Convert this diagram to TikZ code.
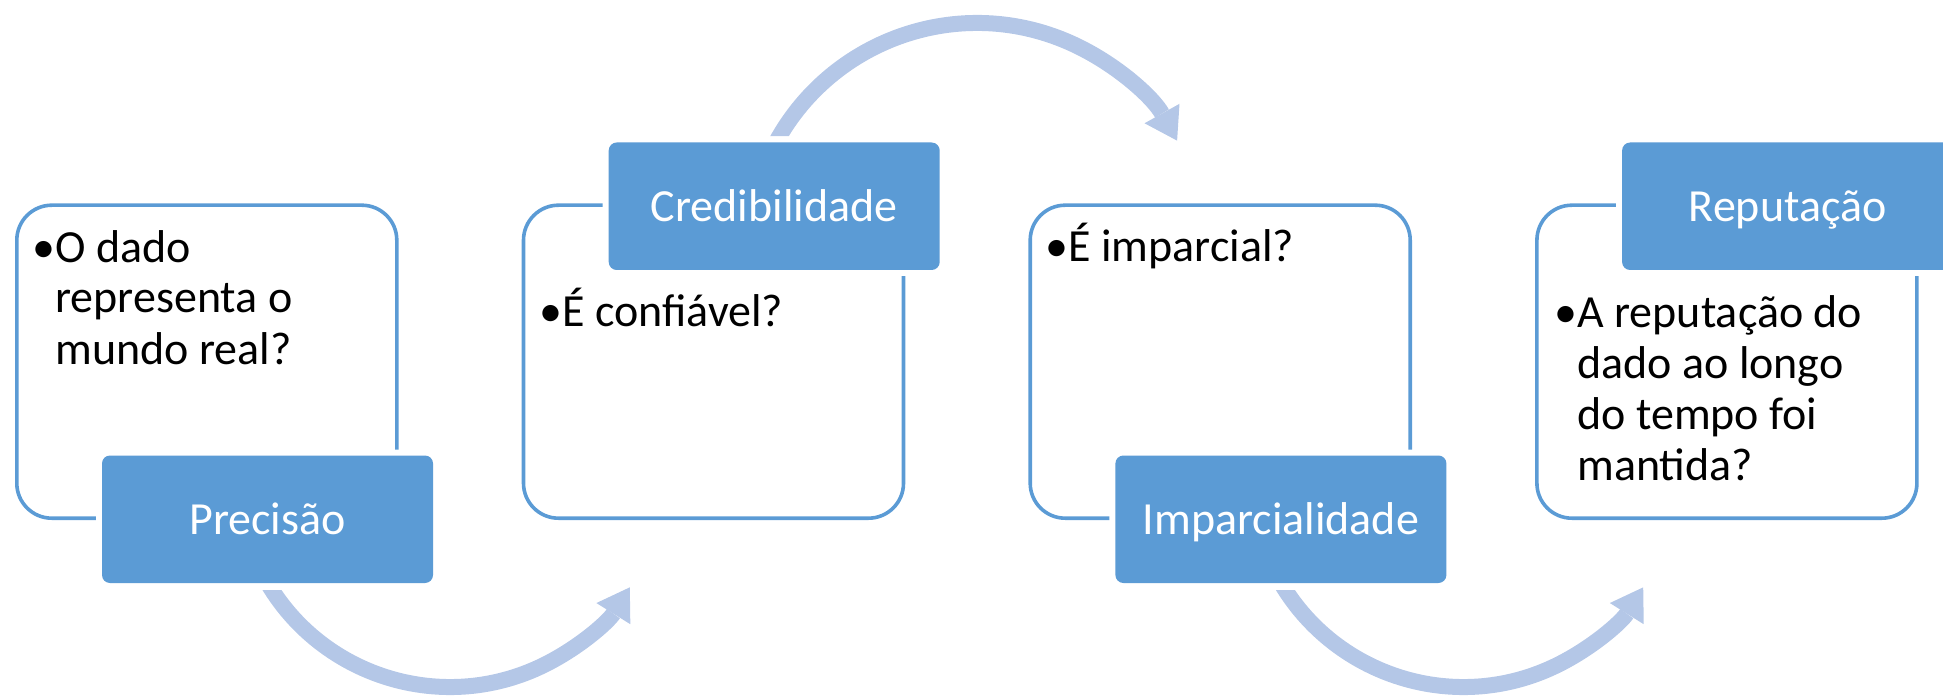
\documentclass[tikz,border=0pt]{standalone}
\usepackage{fontspec}
\setmainfont{Carlito}
\usetikzlibrary{arrows.meta}
\definecolor{accent}{RGB}{91,155,213}
\definecolor{flowtint}{RGB}{180,199,231}
\begin{document}
\begin{tikzpicture}[x=0.5pt,y=0.5pt,
  card/.style={draw=accent, line width=1.8pt, rounded corners=17.5pt,
    minimum width=190pt, minimum height=156.5pt, inner sep=0pt, anchor=south west},
  tag/.style={fill=accent, rounded corners=4pt, minimum width=165.5pt,
    minimum height=63.75pt, inner sep=0pt, text=white,
    font=\fontsize{23}{25.5}\selectfont, text height=14.8pt, text depth=0pt,
    preaction={draw=white, line width=6pt}},
  body/.style={font=\fontsize{23}{25.5}\selectfont, align=left, inner sep=0pt,
    anchor=base west},
  flow/.style={draw=flowtint, line width=8pt,
    -{Triangle[length=15.5pt, width=20pt, line width=0pt]}}
]
\path[use as bounding box, clip] (0,0) rectangle (1943,697);

% curved flow arrows (behind everything)
\coordinate (c1) at (450,222);
\coordinate (c2) at (977,445);
\coordinate (c3) at (1463.4,222);
\begin{scope}
  \clip (0,0) rectangle (450,107) (450,0) rectangle (1943,697);
  \draw[flow] (c1) ++(205:212) arc[start angle=205, end angle=328, radius=212];
\end{scope}
\begin{scope}
  \clip (0,560.5) rectangle (977,697) (977,0) rectangle (1943,697);
  \draw[flow] (c2) ++(156:229) arc[start angle=156, end angle=29.1, radius=229];
\end{scope}
\begin{scope}
  \clip (0,0) rectangle (1463.4,107) (1463.4,0) rectangle (1943,697);
  \draw[flow] (c3) ++(205:212) arc[start angle=205, end angle=328, radius=212];
\end{scope}

% outlined cards
\node[card] (card1) at (15,177) {};
\node[card] (card2) at (521.7,177) {};
\node[card] (card3) at (1028.4,177) {};
\node[card] (card4) at (1535.1,177) {};

% filled title tags
\node[tag] (tag1) at (267.5,177.75) {Precisão};
\node[tag] (tag2) at (774.2,490.75) {Credibilidade};
\node[tag] (tag3) at (1280.9,177.75) {Imparcialidade};
\node[tag] (tag4) at (1787.6,490.75) {Reputação};

% bullet texts (anchored at the baseline of their last line)
\node[body] (txt1) at (55,333) {\llap{•}O dado\\representa o\\mundo real?};
\node[body] (txt2) at (562,370) {\llap{•}É confiável?};
\node[body] (txt3) at (1068,435) {\llap{•}É imparcial?};
\node[body] (txt4) at (1577,217) {\llap{•}A reputação do\\dado ao longo\\do tempo foi\\mantida?};
\end{tikzpicture}
\end{document}
